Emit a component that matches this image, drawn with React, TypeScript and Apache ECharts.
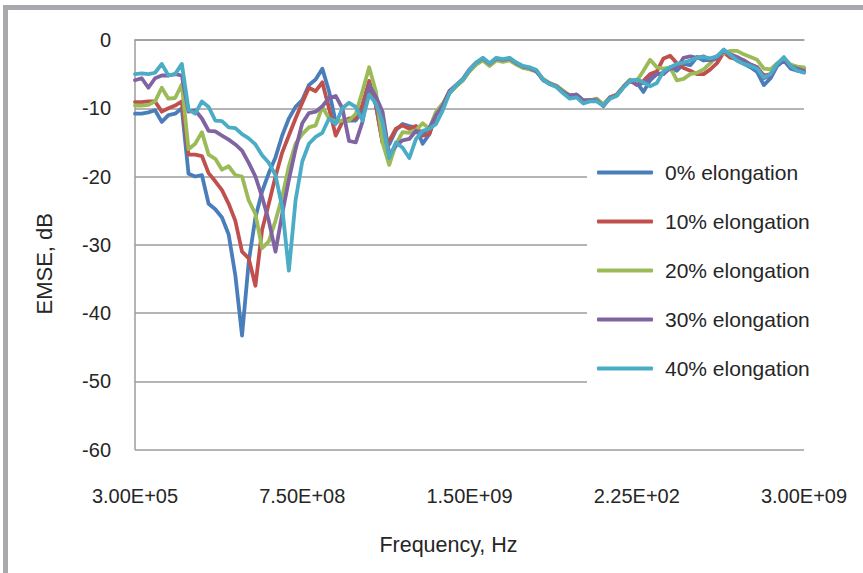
import React, { useEffect, useRef } from "react";
import * as echarts from "echarts";

// Sweep points 0..100 (linear frequency sweep), tick labels every 25 points
const tickLabels = ["3.00E+05", "7.50E+08", "1.50E+09", "2.25E+02", "3.00E+09"];
const seriesNames = [
  "0% elongation",
  "10% elongation",
  "20% elongation",
  "30% elongation",
  "40% elongation",
];
const seriesColors = ["#4A7EBB", "#C0504D", "#9BBB59", "#8064A2", "#4BACC6"];

// EMSE in dB at each sweep point
const emse0 = [
  -10.8, -10.8, -10.6, -10.3, -12.0, -11.0, -10.8, -10.0, -19.6, -20.0,
  -19.8, -24.0, -24.8, -26.0, -28.5, -34.5, -43.3, -32.5, -26.0, -22.2,
  -19.5, -17.2, -14.0, -11.5, -9.8, -8.8, -6.6, -5.8, -4.2, -7.5,
  -12.0, -11.8, -11.8, -11.8, -10.4, -6.8, -9.5, -15.0, -15.3, -13.2,
  -12.3, -12.6, -12.8, -15.2, -13.8, -10.8, -9.5, -7.8, -6.8, -5.9,
  -4.5, -3.5, -2.8, -3.6, -2.8, -3.0, -2.8, -3.4, -4.0, -4.1,
  -4.5, -5.9, -6.4, -6.7, -7.6, -8.1, -8.0, -8.9, -8.9, -8.6,
  -9.6, -8.4, -8.1, -6.9, -5.9, -6.2, -7.6, -5.9, -5.0, -5.0,
  -4.0, -4.5, -3.5, -3.7, -2.5, -3.0, -2.9, -2.8, -1.5, -2.3,
  -3.0, -3.5, -4.0, -4.7, -6.6, -5.6, -3.8, -3.0, -4.2, -4.5,
  -4.7,
];
const emse10 = [
  -9.1, -9.1, -9.0, -9.0, -10.5, -10.0, -9.6, -9.0, -16.8, -16.8,
  -17.0, -19.5, -20.7, -22.0, -24.0, -26.5, -31.0, -32.0, -36.0, -27.8,
  -24.0, -20.0, -16.5, -14.0, -11.5, -9.2, -7.0, -7.5, -6.2, -10.0,
  -14.0, -12.0, -11.5, -11.5, -9.5, -6.0, -9.5, -15.0, -14.8, -13.0,
  -12.5, -13.0, -12.6, -14.0, -13.8, -10.8, -9.5, -7.5, -6.6, -5.9,
  -4.5, -3.5, -2.8, -3.6, -2.8, -3.0, -2.8, -3.5, -4.0, -4.2,
  -4.6, -5.8, -6.4, -6.8, -7.6, -8.2, -8.0, -8.9, -8.8, -8.7,
  -9.5, -8.4, -8.0, -6.9, -6.0, -6.5, -6.0, -5.0, -4.6, -2.7,
  -2.3, -3.4, -4.1, -4.5, -5.0, -5.0, -4.3, -3.4, -1.8, -2.6,
  -2.8, -3.0, -3.6, -4.0, -5.2, -5.0, -3.5, -2.8, -3.8, -4.1,
  -4.2,
];
const emse20 = [
  -9.6, -9.6, -9.5, -9.0, -7.0, -8.6, -8.5, -6.5, -16.0, -15.2,
  -13.5, -16.8, -17.4, -19.0, -18.5, -19.8, -20.0, -23.5, -25.5, -30.5,
  -29.5, -26.5, -23.0, -18.5, -15.2, -13.8, -12.8, -12.5, -9.8, -11.5,
  -12.0, -11.8, -11.8, -10.8, -7.5, -4.0, -7.5, -15.0, -18.3, -15.3,
  -13.5, -13.6, -13.2, -12.2, -13.0, -10.5, -9.3, -7.8, -6.8, -5.9,
  -4.6, -3.6, -3.0, -3.8, -3.0, -3.2, -3.0, -3.6, -4.1, -4.3,
  -4.6, -5.7, -6.3, -6.7, -7.4, -8.2, -8.1, -8.8, -8.9, -8.6,
  -9.4, -8.5, -8.0, -6.8, -5.8, -6.0, -4.5, -2.9, -4.0, -4.2,
  -4.0, -5.9, -5.7, -5.0, -4.8, -4.3, -3.4, -2.3, -1.9, -1.6,
  -1.6, -2.1, -2.5, -2.9, -4.2, -4.3, -3.4, -2.7, -3.6, -3.9,
  -4.0,
];
const emse30 = [
  -5.9, -5.6, -7.0, -5.6, -5.2, -5.2, -5.0, -5.2, -10.5, -10.3,
  -11.5, -13.3, -13.4, -14.0, -14.6, -15.3, -16.2, -18.0, -20.0, -23.0,
  -26.5, -31.0, -25.5, -20.5, -16.0, -12.2, -10.7, -10.5, -9.7, -8.5,
  -8.2, -10.0, -14.8, -15.0, -12.0, -6.6, -8.3, -10.5, -16.8, -15.5,
  -14.7, -14.5, -13.3, -13.8, -12.9, -11.0, -9.6, -7.5, -6.6, -5.7,
  -4.3, -3.3, -2.7, -3.5, -2.7, -2.9, -2.7, -3.4, -3.9, -4.1,
  -4.6, -5.8, -6.4, -6.8, -7.6, -8.2, -8.0, -8.9, -8.8, -8.8,
  -9.7, -8.5, -8.1, -6.9, -5.9, -6.6, -6.3, -5.6, -5.0, -4.8,
  -4.2, -4.1, -2.6, -2.4, -2.6, -2.4, -3.0, -2.6, -1.6, -2.1,
  -2.5, -3.0, -3.6, -4.0, -5.6, -5.2, -3.6, -2.8, -3.8, -4.2,
  -4.5,
];
const emse40 = [
  -5.0, -4.9, -5.0, -4.8, -3.5, -5.2, -5.0, -3.5, -10.2, -10.8,
  -9.0, -9.8, -11.8, -11.9, -12.8, -12.9, -13.8, -14.4, -15.3, -16.9,
  -18.0, -19.8, -24.5, -33.8, -23.5, -17.8, -15.2, -14.2, -13.6, -11.5,
  -12.3, -10.0, -9.2, -9.8, -11.8, -8.0, -9.3, -12.0, -17.3, -15.0,
  -15.8, -17.3, -14.5, -13.3, -13.0, -12.3, -10.3, -7.8, -6.6, -5.8,
  -4.4, -3.3, -2.6, -3.4, -2.6, -2.8, -2.6, -3.3, -3.8, -4.0,
  -4.4, -5.8, -6.5, -6.9, -7.8, -8.6, -8.4, -9.3, -9.0, -9.0,
  -9.6, -8.6, -8.2, -7.0, -6.0, -5.8, -6.2, -6.8, -6.3, -4.6,
  -4.0, -3.5, -3.3, -3.0, -2.6, -2.5, -2.7, -2.4, -1.4, -2.2,
  -3.0, -3.5, -3.8, -4.2, -5.5, -5.0, -3.5, -2.5, -3.8, -4.5,
  -4.8,
];

const seriesValues = [emse0, emse10, emse20, emse30, emse40];

const FONT = "'Liberation Sans', Arial, sans-serif";
const TEXT = "#262626";
const GRID = "#9d9d9d";

export default function App() {
  const ref = useRef<HTMLDivElement>(null);

  useEffect(() => {
    if (!ref.current) return;
    const chart = echarts.init(ref.current, undefined, { renderer: "svg" });

    const series = seriesValues.map((vals, k) => ({
      name: seriesNames[k],
      type: "line" as const,
      data: vals.map((v, i) => [i, v]),
      showSymbol: false,
      symbol: "none",
      lineStyle: { width: 3.8, color: seriesColors[k], join: "round", cap: "round" },
      itemStyle: { color: seriesColors[k] },
      z: 2 + k,
    }));

    chart.setOption({
      animation: false,
      backgroundColor: "#ffffff",
      textStyle: { fontFamily: FONT },
      graphic: [
        // outer frame: top and left bars
        { type: "rect", shape: { x: 3, y: 5, width: 860, height: 5 }, style: { fill: "#a8a9ac" }, silent: true },
        { type: "rect", shape: { x: 3, y: 5, width: 5, height: 568 }, style: { fill: "#a8a9ac" }, silent: true },
      ],
      grid: { left: 135, right: 59, top: 40, bottom: 123.5 },
      legend: {
        orient: "vertical",
        left: 587,
        top: 150,
        padding: [12, 14, 14, 10],
        backgroundColor: "#ffffff",
        itemGap: 28,
        itemWidth: 56,
        itemHeight: 4,
        icon: "roundRect",
        data: seriesNames,
        textStyle: { fontSize: 21, lineHeight: 21, color: TEXT, fontFamily: FONT, padding: [0, 0, 0, 7] },
      },
      xAxis: {
        type: "value",
        min: 0,
        max: 100,
        interval: 25,
        name: "Frequency, Hz",
        nameLocation: "middle",
        nameGap: 84,
        nameTextStyle: { fontSize: 21.5, color: TEXT, fontFamily: FONT, padding: [0, 42, 0, 0] },
        axisLine: { show: true, lineStyle: { color: GRID, width: 1.5 } },
        axisTick: { show: false },
        splitLine: { show: false },
        axisLabel: {
          margin: 36,
          fontSize: 20,
          color: TEXT,
          fontFamily: FONT,
          formatter: (v: number) => tickLabels[Math.round(v / 25)] ?? "",
        },
      },
      yAxis: {
        type: "value",
        min: -60,
        max: 0,
        interval: 10,
        name: "EMSE, dB",
        nameLocation: "middle",
        nameGap: 80,
        nameTextStyle: { fontSize: 22, color: TEXT, fontFamily: FONT, padding: [0, 38, 0, 0] },
        axisLine: { show: true, lineStyle: { color: GRID, width: 1.5 } },
        axisTick: { show: false },
        splitLine: { show: true, lineStyle: { color: GRID, width: 1.5 } },
        axisLabel: { margin: 24, fontSize: 20, color: TEXT, fontFamily: FONT },
      },
      series,
    });

    return () => chart.dispose();
  }, []);

  return (
    <div
      ref={ref}
      style={{ position: "fixed", left: 0, top: 0, width: 863, height: 573, background: "#fff" }}
    />
  );
}
